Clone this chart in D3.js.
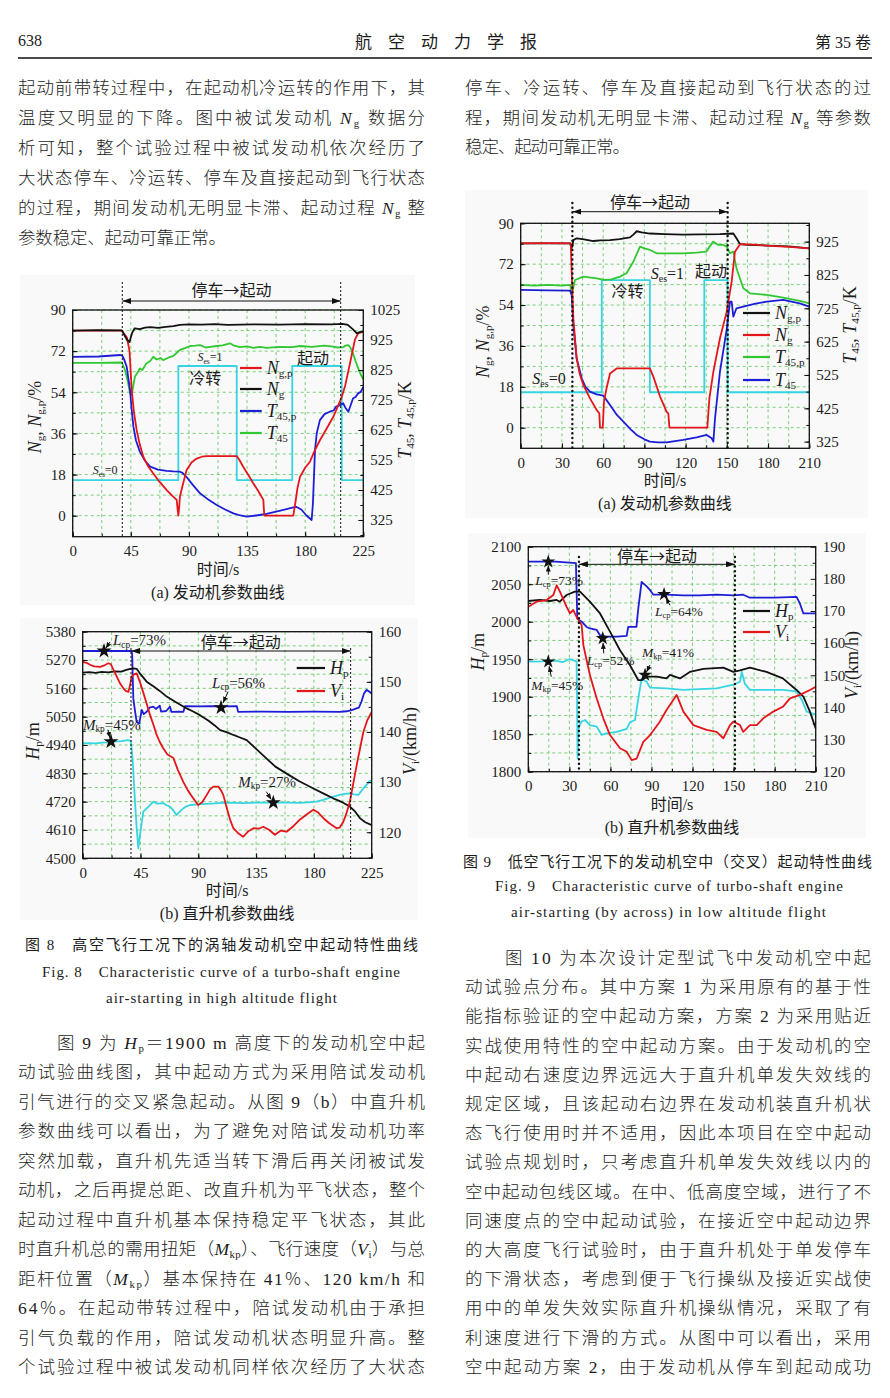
<!DOCTYPE html>
<html>
<head>
<meta charset="utf-8">
<script src="https://cdn.jsdelivr.net/npm/d3@7"></script>
<style>
body { margin: 0; background: #fff; }
</style>
</head>
<body>
<div id="page"></div>
<script>
// ---------- page text ----------
var topLeftLines = [
	"起动前带转过程中，在起动机冷运转的作用下，其",
	"温度又明显的下降。图中被试发动机 *N*_{g} 数据分",
	"析可知，整个试验过程中被试发动机依次经历了",
	"大状态停车、冷运转、停车及直接起动到飞行状态",
	"的过程，期间发动机无明显卡滞、起动过程 *N*_{g} 整",
	"参数稳定、起动可靠正常。"
];
var topRightLines = [
	"停车、冷运转、停车及直接起动到飞行状态的过",
	"程，期间发动机无明显卡滞、起动过程 *N*_{g} 等参数",
	"稳定、起动可靠正常。"
];
var bottomLeftLines = [
	"图 9 为 *H*_{p}＝1900 m 高度下的发动机空中起",
	"动试验曲线图，其中起动方式为采用陪试发动机",
	"引气进行的交叉紧急起动。从图 9（b）中直升机",
	"参数曲线可以看出，为了避免对陪试发动机功率",
	"突然加载，直升机先适当转下滑后再关闭被试发",
	"动机，之后再提总距、改直升机为平飞状态，整个",
	"起动过程中直升机基本保持稳定平飞状态，其此",
	"时直升机总的需用扭矩（*M*_{kp}）、飞行速度（*V*_{i}）与总",
	"距杆位置（*M*_{kp}）基本保持在 41％、120 km/h 和",
	"64％。在起动带转过程中，陪试发动机由于承担",
	"引气负载的作用，陪试发动机状态明显升高。整",
	"个试验过程中被试发动机同样依次经历了大状态"
];
var bottomRightLines = [
	"图 10 为本次设计定型试飞中发动机空中起",
	"动试验点分布。其中方案 1 为采用原有的基于性",
	"能指标验证的空中起动方案，方案 2 为采用贴近",
	"实战使用特性的空中起动方案。由于发动机的空",
	"中起动右速度边界远远大于直升机单发失效线的",
	"规定区域，且该起动右边界在发动机装直升机状",
	"态飞行使用时并不适用，因此本项目在空中起动",
	"试验点规划时，只考虑直升机单发失效线以内的",
	"空中起动包线区域。在中、低高度空域，进行了不",
	"同速度点的空中起动试验，在接近空中起动边界",
	"的大高度飞行试验时，由于直升机处于单发停车",
	"的下滑状态，考虑到便于飞行操纵及接近实战使",
	"用中的单发失效实际直升机操纵情况，采取了有",
	"利速度进行下滑的方式。从图中可以看出，采用",
	"空中起动方案 2，由于发动机从停车到起动成功"
];
var caption8 = ["图 8　高空飞行工况下的涡轴发动机空中起动特性曲线",
	"Fig. 8　Characteristic curve of a turbo-shaft engine",
	"air-starting in high altitude flight"];
var caption9 = ["图 9　低空飞行工况下的发动机空中（交叉）起动特性曲线",
	"Fig. 9　Characteristic curve of turbo-shaft engine",
	"air-starting (by across) in low altitude flight"];

// ---------- Fig 8(a) engine, high altitude ----------
var f8aTicksX = [0, 45, 90, 135, 180, 225];
var f8aTicksL = [0, 18, 36, 54, 72, 90];
var f8aTicksR = [325, 425, 525, 625, 725, 825, 925, 1025];
var f8aStop = [38.4, 207.5];
var f8aSes = [[0, 15.6], [81.8, 15.6], [81.8, 65.5], [127, 65.5], [127, 15.6], [170, 15.6], [170, 65.5], [208.3, 65.5], [208.3, 15.6], [225, 15.6]];
var f8aNgp = [[0, 81], [38, 81], [42, 78], [44, 72], [45.7, 55], [47.5, 45], [49.5, 37.5], [52, 31], [54.7, 25.8], [58, 22], [62.4, 18.5], [67, 15], [72.8, 11.2], [77, 8.8], [80.5, 6.9], [81.2, 3], [81.8, 0], [82.5, 4], [83, 8.3], [85, 13], [88.2, 20], [92, 23.3], [96, 25], [100, 25.8], [103.7, 26.1], [115, 26.1], [127, 26.1], [129, 24.5], [132, 21.4], [136, 17.8], [139.8, 14.2], [144, 10.5], [147.6, 6.9], [148, 3], [148.4, 0], [170.8, 0], [172.5, 6], [174, 12], [176, 17], [180, 21], [183.7, 23.6], [187, 28], [191.4, 33], [196, 37.5], [201.8, 43.3], [205, 47.5], [208, 51.4], [211, 57], [214.7, 66.7], [218.5, 77], [221, 79.8], [225, 80.5]];
var f8aNg = [[0, 81], [20, 81.2], [38, 81.1], [40, 79], [42, 77], [44, 76], [46, 80], [48, 82], [52, 81.6], [56, 82.3], [60, 82.5], [66, 82.2], [72, 82.6], [78, 82.9], [83, 83.5], [90, 83.7], [100, 83.6], [110, 83.8], [120, 83.5], [140, 83.7], [160, 83.6], [180, 83.8], [200, 83.7], [209, 83.9], [213, 83.5], [217, 81.5], [220, 79.8], [222, 80.3], [225, 80.5]];
var f8aT45p = [[0, 869], [20, 870], [37, 875], [38.5, 872], [40, 858], [41.8, 836], [43, 800], [44.4, 758], [45.5, 700], [47, 636], [49, 590], [52, 553], [56, 522], [60, 503], [66, 493], [72.8, 489], [78, 487], [83, 486], [85, 482], [88, 469], [93, 442], [98.6, 414], [105, 393], [111.5, 375], [118, 360], [124.4, 347], [130, 340], [134.7, 336], [142, 340], [150, 345], [160, 355], [170.8, 367], [173, 369], [177, 360], [181, 340], [185, 325], [186, 380], [187.6, 558], [189, 615], [191.4, 658], [195, 678], [199, 686], [202, 690], [204, 703], [207, 708], [209.5, 714], [211, 700], [213.4, 686], [215, 705], [217, 730], [219, 735], [221, 747], [223, 752], [225, 769]];
var f8aT45 = [[0, 849], [20, 849], [38, 850], [40.5, 825], [42.5, 790], [44.4, 747], [45.7, 742], [47, 775], [48.2, 803], [50, 815], [52, 830], [54, 825], [57, 847], [60, 855], [62.4, 869], [65, 860], [68, 865], [70, 858], [74, 866], [78, 872], [80, 880], [83, 892], [87, 898], [90.8, 905], [95, 906], [98.6, 908], [103, 900], [108, 903], [111.5, 905], [116, 907], [121.8, 914], [125, 906], [129.5, 901], [135, 904], [140, 899], [145, 902], [150, 899], [160, 902], [170, 901], [176, 905], [185, 902], [195, 906], [201.8, 903], [205, 900], [209.5, 901], [211, 906], [213.4, 908], [215, 900], [217, 881], [219, 855], [221, 831], [223, 810], [225, 794]];

// ---------- Fig 8(b) helicopter, high altitude ----------
var f8bTicksX = [0, 45, 90, 135, 180, 225];
var f8bTicksL = [4500, 4610, 4720, 4830, 4940, 5050, 5160, 5270, 5380];
var f8bTicksR = [120, 130, 140, 150, 160];
var f8bStop = [37.6, 208.6];
var f8bHp = [[0, 5221], [5, 5223], [10, 5220], [15, 5224], [20, 5222], [25, 5226], [30, 5225], [34, 5232], [37, 5236], [39.4, 5238], [42, 5236], [45, 5215], [49.8, 5186], [55, 5168], [60, 5150], [65.4, 5128], [72, 5108], [81, 5082], [86, 5070], [91.3, 5056], [98, 5034], [103, 5015], [107, 4998], [112, 4990], [117.3, 4979], [122, 4970], [127.7, 4959], [135, 4925], [143, 4888], [150, 4856], [160, 4825], [169, 4798], [180, 4770], [188, 4750], [195, 4733], [202, 4718], [208, 4701], [212, 4682], [216, 4655], [220, 4640], [225, 4629]];
var f8bLcp = [[0, 5305], [38, 5305], [38.5, 5290], [39.4, 5121], [40.5, 5080], [42, 5030], [43, 5026], [44, 5024], [45, 5050], [46, 5076], [47.5, 5060], [49.8, 5069], [52, 5085], [55, 5089], [57, 5080], [60, 5093], [61, 5070], [65, 5072], [68, 5089], [69, 5069], [75, 5070], [78.4, 5069], [79.7, 5091], [90, 5090], [100, 5091], [110, 5090], [120, 5091], [121, 5069], [140, 5070], [160, 5069], [180, 5070], [200, 5069], [205.5, 5071], [210, 5076], [212, 5080], [215, 5085], [217, 5108], [219, 5140], [221, 5154], [223, 5148], [225, 5140]];
var f8bMkp = [[0, 4946], [5, 4947], [10, 4946], [15, 4949], [20, 4950], [25, 4953], [30, 4955], [35, 4959], [37.5, 4956], [38, 4930], [39, 4875], [40.7, 4720], [42, 4620], [43.3, 4539], [44.6, 4590], [46, 4640], [47.2, 4681], [49.8, 4694], [52, 4705], [55, 4720], [58, 4712], [62.8, 4714], [65, 4707], [68, 4700], [70, 4690], [73, 4668], [75, 4678], [77, 4688], [80, 4700], [83.6, 4707], [91.3, 4710], [100, 4712], [112, 4716], [125, 4714], [135, 4716], [148, 4716], [160, 4716], [170, 4715], [182, 4720], [188, 4728], [192.5, 4736], [200, 4746], [204, 4750], [208, 4752], [211, 4748], [214.6, 4746], [216, 4755], [218.5, 4772], [221, 4785], [223, 4798], [225, 4804]];
var f8bVi = [[0, 154], [3, 153.8], [5.7, 153.4], [9, 153.1], [13.5, 153], [17, 153.3], [20, 153.7], [22, 153.5], [24, 152.4], [27, 150.8], [29.5, 149.5], [31.7, 148.7], [33.5, 148.2], [35.6, 148], [37, 149.5], [38, 151], [40, 151.5], [42, 151.7], [44.5, 150], [47, 148], [50, 145.5], [52.4, 143.4], [55, 141.5], [57.6, 139.4], [60, 138], [62.8, 136.7], [66, 135.5], [70.6, 134.8], [74, 132.5], [78.4, 130], [82, 128.3], [86, 126.8], [90, 125.4], [93, 126], [96.5, 127.4], [99, 128.5], [101.7, 129.1], [105.6, 129.1], [108, 128.2], [109.5, 127.4], [112, 125], [115, 122.3], [117.3, 120.8], [121, 119.8], [125, 119.1], [129, 120.2], [132.9, 120.8], [137, 120.7], [140.6, 121.1], [145, 120.5], [149.7, 119.5], [154, 120.3], [158.8, 120.1], [164, 121.2], [169, 122.5], [174, 123.5], [179.6, 124.5], [183, 124], [187.4, 122.8], [192, 121.8], [197.7, 120.8], [200, 120.9], [202.9, 122.1], [205, 123.5], [208, 126.1], [210.5, 129.5], [213.3, 133.4], [216, 136.8], [218.5, 140], [221.5, 142.3], [225, 144]];
var f8bNotes = [
	{ text: "*L*_{cp}=73%", t: 16.6, v: 5305 },
	{ text: "*L*_{cp}=56%", t: 107.7, v: 5085 },
	{ text: "*M*_{kp}=45%", t: 22, v: 4953 },
	{ text: "*M*_{kp}=27%", t: 148.4, v: 4716 }
];

// ---------- Fig 9(a) engine, low altitude ----------
var f9aTicksX = [0, 30, 60, 90, 120, 150, 180, 210];
var f9aTicksL = [0, 18, 36, 54, 72, 90];
var f9aTicksR = [325, 425, 525, 625, 725, 825, 925];
var f9aStop = [37.6, 150.6];
var f9aSes = [[0, 15.6], [59, 15.6], [59, 65], [94, 65], [94, 15.6], [133.6, 15.6], [133.6, 65], [150.6, 65], [150.6, 15.6], [210, 15.6]];
var f9aNgp = [[0, 81.2], [36, 81.2], [37, 79], [37.6, 80], [38.3, 82.6], [40.7, 83.4], [45, 83], [52.9, 82.2], [58, 82.5], [65, 82.6], [72, 83], [79.5, 83.8], [82, 85], [84.4, 86.5], [88, 86], [94, 85.5], [105, 85.2], [118, 85], [130, 85.1], [145, 85.2], [154.7, 85.5], [157, 83.4], [159.6, 80.8], [165, 80.5], [180, 80.2], [195, 79.8], [210, 79]];
var f9aNg = [[0, 81.2], [20, 81.3], [36.4, 81.2], [37.1, 68.7], [38.3, 48.2], [40.7, 30.5], [43, 23.5], [45.6, 18.8], [50.4, 12.9], [55.3, 7.8], [57.2, 6.3], [57.7, 0], [59.7, 0], [60.6, 11.5], [62.5, 17.5], [65, 23.9], [69.8, 26.1], [80, 26.1], [94, 26.1], [96.5, 22.5], [101.4, 13.7], [106.2, 7], [107.4, 6.3], [108.2, 0], [135.8, 0], [137.3, 12.9], [140.2, 24.7], [145, 39.4], [149.9, 51.1], [153.5, 64.3], [155.9, 77.5], [159.6, 80.8], [170, 80.6], [179, 80.2], [195, 79.6], [210, 79]];
var f9aT45p = [[0, 795], [10, 793], [20, 795], [30, 793], [36, 795], [37.1, 765], [39.5, 810], [45.6, 820], [55.3, 815], [60.6, 810], [66, 812], [72.3, 820], [77, 830], [82, 865], [86.8, 910], [90, 905], [94, 900], [99, 890], [110, 890], [118, 890], [128, 892], [135, 895], [140, 925], [143.8, 915], [147.4, 915], [150, 910], [152.3, 890], [154.7, 895], [157, 845], [162, 785], [166.8, 770], [179, 765], [191, 757], [203, 747], [210, 740]];
var f9aT45 = [[0, 780], [20, 779], [36, 778], [37.1, 765], [38.3, 675], [40.7, 575], [44.4, 515], [47, 490], [50.4, 475], [55.3, 467], [60.1, 463], [65, 435], [70, 405], [74.7, 385], [80, 362], [84.4, 345], [90, 332], [94, 325], [100, 323], [106.2, 323], [118.3, 330], [128, 338], [135.3, 345], [139, 335], [140.2, 325], [141.4, 395], [145, 535], [150, 665], [152.3, 745], [153.5, 745], [154.7, 700], [157, 725], [162, 730], [170, 738], [179, 745], [191, 750], [203, 740], [210, 730]];

// ---------- Fig 9(b) helicopter, low altitude ----------
var f9bTicksX = [0, 30, 60, 90, 120, 150, 180, 210];
var f9bTicksL = [1800, 1850, 1900, 1950, 2000, 2050, 2100];
var f9bTicksR = [120, 130, 140, 150, 160, 170, 180, 190];
var f9bStop = [37, 151];
var f9bLcp = [[0, 2080], [20, 2080], [34.8, 2078], [35.8, 2004], [39, 2000], [42.6, 1993], [45, 1991], [50, 1989], [52.4, 1982], [57, 1980], [65, 1980], [71.9, 1981], [73, 1993], [79, 1993], [80.4, 2018], [82.8, 2053], [86.5, 2047], [89, 2042], [91.4, 2036], [101, 2036], [113, 2035], [125, 2035], [137.6, 2036], [150, 2035], [157, 2036], [162, 2032], [180, 2032], [196, 2033], [198.5, 2024], [201, 2011], [210, 2011]];
var f9bMkp = [[0, 1946.7], [10, 1947], [20, 1948], [25, 1946], [30, 1950], [35.3, 1947], [35.6, 1900], [36, 1818], [36.5, 1850], [37, 1860], [39, 1867], [41.4, 1869], [45, 1862], [50, 1860], [53.6, 1849], [57, 1851], [64.6, 1853], [71.9, 1857], [74.3, 1866], [78, 1869], [80.4, 1898], [82.8, 1924], [86.5, 1920], [89, 1912], [101, 1911], [113, 1909], [125, 1910], [137.6, 1911], [149.8, 1916], [154.7, 1920], [156, 1933], [158.3, 1917], [162, 1909], [174, 1909], [186, 1909], [196, 1907], [199.8, 1896], [203.4, 1880], [210, 1876]];
var f9bHp = [[0, 2027.6], [8.5, 2029], [15.8, 2027.6], [20.7, 2029], [23, 2026.7], [28, 2035.6], [34, 2040], [37.8, 2040], [45, 2026.7], [52.4, 2011], [59.7, 1986.7], [67, 1962], [74.3, 1942], [80.4, 1922], [82.8, 1922], [86.5, 1926.7], [93.8, 1926.7], [101, 1924.4], [103.5, 1929], [110.8, 1924.4], [118, 1933], [127.9, 1937], [142.5, 1938.7], [149.8, 1933], [154.7, 1935], [162, 1938.7], [174, 1933], [186, 1924.4], [196, 1909], [201, 1900], [205.8, 1880], [210, 1857.8]];
var f9bVi = [[0, 171.3], [6, 172.9], [13.4, 173.4], [18.3, 175], [20.7, 178], [23.1, 176], [28, 171.3], [30.4, 169.3], [32.9, 170.3], [35.3, 168.2], [39, 165.6], [40.2, 159.4], [45, 150.1], [50, 142.8], [54.8, 136.6], [59.7, 131.4], [67, 127.3], [71.9, 126.2], [75.5, 123.6], [79.2, 124.1], [84, 129.3], [89, 131.4], [96.2, 135.6], [101, 139.2], [108.4, 143.9], [113.3, 138.7], [120.6, 134.5], [130.3, 133], [137.6, 132.4], [142.5, 130.4], [147.4, 134.5], [149.8, 135.6], [154.7, 134.5], [157, 132.4], [162, 134.5], [166.9, 134.5], [171.7, 136.6], [179, 138.7], [186.3, 140.3], [191.2, 142.8], [198.5, 143.9], [205.8, 145.4], [210, 146.4]];
var f9bNotes = [
	{ text: "*L*_{cp}=73%", t: 14.6, v: 2080 },
	{ text: "*M*_{kp}=45%", t: 14.6, v: 1946.7 },
	{ text: "*L*_{cp}=52%", t: 54.4, v: 1977.8 },
	{ text: "*M*_{kp}=41%", t: 85.3, v: 1929 },
	{ text: "*L*_{cp}=64%", t: 99.2, v: 2036.5 }
];

// ---------- styles ----------
var serif = "'Liberation Serif', 'Times New Roman', serif";
var mixed = "'Liberation Serif', 'Noto Sans CJK SC', sans-serif";
var cjk = "'Noto Sans CJK SC', sans-serif";
var cRed = "#e4161c", cBlack = "#121212", cBlue = "#1d1dd8", cGreen = "#30c832", cCyan = "#35d5e2", cGrid = "#58c658";
var ink = "#1c1c1c";

var svg = d3.select("#page").append("svg")
	.attr("width", 890)
	.attr("height", 1398)
	.style("background", "#fff");
var defs = svg.append("defs");

defs.append("marker").attr("id", "ah")
	.attr("markerUnits", "userSpaceOnUse")
	.attr("markerWidth", 9).attr("markerHeight", 6)
	.attr("refX", 9).attr("refY", 3)
	.attr("orient", "auto-start-reverse")
	.append("path").attr("d", "M0,0 L9,3 L0,6 Z").attr("fill", "#111");
defs.append("marker").attr("id", "ah2")
	.attr("markerUnits", "userSpaceOnUse")
	.attr("markerWidth", 6).attr("markerHeight", 5)
	.attr("refX", 6).attr("refY", 2.5)
	.attr("orient", "auto")
	.append("path").attr("d", "M0,0 L6,2.5 L0,5 Z").attr("fill", "#111");

// text with *italic* and _{sub} markup
function rich(t, str, size) {
	var re = /\*([^*]+)\*|_\{([^}]+)\}|([^*_]+)/g, m, down = 0;
	while ((m = re.exec(str)) !== null) {
		var s;
		if (m[2] !== undefined) {
			var d = size * 0.3;
			s = t.append("tspan").attr("font-size", size * 0.62).attr("dy", d - down).text(m[2]);
			down = d;
		} else {
			s = t.append("tspan").text(m[1] !== undefined ? m[1] : m[3]);
			if (m[1] !== undefined) s.attr("font-style", "italic");
			if (down) { s.attr("dy", -down); down = 0; }
		}
	}
	return t;
}

function textAt(x, y, str, size, family, anchor) {
	var t = svg.append("text")
		.attr("x", x).attr("y", y)
		.attr("font-size", size)
		.attr("font-family", family || mixed)
		.attr("fill", ink)
		.attr("dominant-baseline", "central")
		.attr("text-anchor", anchor || "start");
	return rich(t, str, size);
}

// justified paragraph
function para(lines, x0, x1, y0, step, indent, lastEnd) {
	lines.forEach(function (s, i) {
		var xs = x0 + (i === 0 ? indent : 0);
		var end = (i === lines.length - 1 && lastEnd) ? lastEnd : x1;
		textAt(xs, y0 + i * step, s, 17.5)
			.attr("font-weight", 300)
			.attr("textLength", end - xs)
			.attr("lengthAdjust", "spacing");
	});
}

//header
textAt(18, 40, "638", 16, serif);
textAt(355, 42, "航 空 动 力 学 报", 17).attr("textLength", 182).attr("lengthAdjust", "spacing");
textAt(815, 42, "第 35 卷", 16).attr("textLength", 56).attr("lengthAdjust", "spacing");
svg.append("line").attr("x1", 18).attr("x2", 872).attr("y1", 58).attr("y2", 58)
	.attr("stroke", "#111").attr("stroke-width", 1.5);

//body text
para(topLeftLines, 18, 425, 88, 30, 0, 226);
para(topRightLines, 465, 871, 88, 29.5, 0, 630);
para(bottomLeftLines, 18, 425, 1043, 29.45, 39, null);
para(bottomRightLines, 465, 871, 958, 29.2, 40, null);

//captions
textAt(25, 945, caption8[0], 15).attr("textLength", 393).attr("lengthAdjust", "spacing");
textAt(42, 972, caption8[1], 15, serif).attr("textLength", 358).attr("lengthAdjust", "spacing");
textAt(106, 998, caption8[2], 15, serif).attr("textLength", 231).attr("lengthAdjust", "spacing");
textAt(463, 862, caption9[0], 15).attr("textLength", 409).attr("lengthAdjust", "spacing");
textAt(495, 886, caption9[1], 15, serif).attr("textLength", 348).attr("lengthAdjust", "spacing");
textAt(511, 912, caption9[2], 15, serif).attr("textLength", 315).attr("lengthAdjust", "spacing");

//figure backgrounds
[[20, 275, 395, 330], [20, 618, 398, 302], [465, 190, 403, 328], [468, 533, 398, 305]].forEach(function (r) {
	svg.append("rect").attr("x", r[0]).attr("y", r[1]).attr("width", r[2]).attr("height", r[3]).attr("fill", "#f9f9f9");
});

// one dual-axis chart
function drawChart(c) {
	var x = d3.scaleLinear().domain(c.xDom).range([c.left, c.right]);
	var yL = d3.scaleLinear().domain(c.yLDom).range([c.bottom, c.top]);
	var yR = d3.scaleLinear().domain(c.yRDom).range([c.bottom, c.top]);
	var g = svg.append("g");

	defs.append("clipPath").attr("id", "clip" + c.name).append("rect")
		.attr("x", c.left).attr("y", c.top)
		.attr("width", c.right - c.left).attr("height", c.bottom - c.top);

	//grid
	g.selectAll(null).data(c.xGrid).enter().append("line")
		.attr("x1", d => x(d)).attr("x2", d => x(d))
		.attr("y1", c.top).attr("y2", c.bottom)
		.attr("stroke", cGrid).attr("stroke-width", 0.8).attr("stroke-dasharray", "3,3");
	g.selectAll(null).data(c.yGrid).enter().append("line")
		.attr("x1", c.left).attr("x2", c.right)
		.attr("y1", d => yL(d)).attr("y2", d => yL(d))
		.attr("stroke", cGrid).attr("stroke-width", 0.8).attr("stroke-dasharray", "3,3");

	//lines
	c.series.forEach(function (s) {
		var sc = s.axis === "R" ? yR : yL;
		g.append("path").datum(s.data)
			.attr("d", d3.line().x(d => x(d[0])).y(d => sc(d[1])))
			.attr("fill", "none")
			.attr("stroke", s.color)
			.attr("stroke-width", 1.8)
			.attr("stroke-linejoin", "round")
			.attr("clip-path", "url(#clip" + c.name + ")");
	});

	//axes
	function styleAxis(a) {
		a.attr("font-family", serif).attr("font-size", 15);
		a.selectAll(".domain").remove();
		a.selectAll("line").attr("stroke", "#111").attr("stroke-width", 1);
		a.selectAll("text").attr("fill", ink);
	}
	var ax = g.append("g").attr("transform", "translate(0," + c.bottom + ")")
		.call(d3.axisBottom(x).tickValues(c.xTicks).tickSize(-5).tickPadding(9).tickFormat(d3.format("d")));
	styleAxis(ax);
	var axm = g.append("g").attr("transform", "translate(0," + c.bottom + ")")
		.call(d3.axisBottom(x).tickValues(c.xGrid).tickSize(-3).tickFormat(""));
	styleAxis(axm);
	var al = g.append("g").attr("transform", "translate(" + c.left + ",0)")
		.call(d3.axisLeft(yL).tickValues(c.yLTicks).tickSize(-5).tickPadding(7).tickFormat(d3.format("d")));
	styleAxis(al);
	var alm = g.append("g").attr("transform", "translate(" + c.left + ",0)")
		.call(d3.axisLeft(yL).tickValues(c.yGrid).tickSize(-3).tickFormat(""));
	styleAxis(alm);
	var ar = g.append("g").attr("transform", "translate(" + c.right + ",0)")
		.call(d3.axisRight(yR).tickValues(c.yRTicks).tickSize(-5).tickPadding(7).tickFormat(d3.format("d")));
	styleAxis(ar);
	var arm = g.append("g").attr("transform", "translate(" + c.right + ",0)")
		.call(d3.axisRight(yR).tickValues(c.yRMinor).tickSize(-3).tickFormat(""));
	styleAxis(arm);

	g.append("rect").attr("x", c.left).attr("y", c.top)
		.attr("width", c.right - c.left).attr("height", c.bottom - c.top)
		.attr("fill", "none").attr("stroke", "#111").attr("stroke-width", 1.3);

	//axis titles
	var cx = (c.left + c.right) / 2;
	textAt(cx, c.bottom + 32, "时间/s", 16, mixed, "middle");
	textAt(cx, c.bottom + 55, c.sub, 16, mixed, "middle");
	textAt(0, 0, c.yLLabel, 18, serif, "middle")
		.attr("transform", "translate(" + c.yLLabelPos[0] + "," + c.yLLabelPos[1] + ") rotate(-90)");
	textAt(0, 0, c.yRLabel, 18, serif, "middle")
		.attr("transform", "translate(" + c.yRLabelPos[0] + "," + c.yRLabelPos[1] + ") rotate(-90)");

	return { x: x, yL: yL, yR: yR, g: g, c: c };
}

// 停车→起动 span
function stopStart(ch, ts, yTop, yArrow, yLabel, heavy) {
	ts.forEach(function (t) {
		ch.g.append("line")
			.attr("x1", ch.x(t)).attr("x2", ch.x(t))
			.attr("y1", yTop).attr("y2", ch.c.bottom)
			.attr("stroke", "#111")
			.attr("stroke-width", heavy ? 2.4 : 1)
			.attr("stroke-dasharray", heavy ? "0.1,4.6" : "2,2")
			.attr("stroke-linecap", heavy ? "round" : "butt");
	});
	ch.g.append("line")
		.attr("x1", ch.x(ts[0])).attr("x2", ch.x(ts[1]))
		.attr("y1", yArrow).attr("y2", yArrow)
		.attr("stroke", "#111").attr("stroke-width", 1)
		.attr("marker-start", "url(#ah)").attr("marker-end", "url(#ah)");
	textAt((ch.x(ts[0]) + ch.x(ts[1])) / 2, yLabel, "停车→起动", 16, cjk, "middle");
}

function legend(items, x1, x2, ys, size) {
	items.forEach(function (it, i) {
		svg.append("line").attr("x1", x1).attr("x2", x2).attr("y1", ys[i]).attr("y2", ys[i])
			.attr("stroke", it[1]).attr("stroke-width", 2.2);
		textAt(x2 + 5, ys[i], it[0], size, serif);
	});
}

// stars with labels; lay = [labelDx, labelDy, arrowDx, arrowDy] in pixels from the star
function notes(ch, list, lay, size, starSize) {
	list.forEach(function (n, i) {
		var sx = ch.x(n.t), sy = ch.yL(n.v), L = lay[i];
		ch.g.append("line")
			.attr("x1", sx + L[2]).attr("y1", sy + L[3])
			.attr("x2", sx + L[2] * 0.3).attr("y2", sy + L[3] * 0.3)
			.attr("stroke", "#111").attr("stroke-width", 1)
			.attr("marker-end", "url(#ah2)");
		ch.g.append("path")
			.attr("d", d3.symbol().type(d3.symbolStar).size(starSize)())
			.attr("transform", "translate(" + sx + "," + sy + ")")
			.attr("fill", "#111");
		textAt(sx + L[0], sy + L[1], n.text, size, serif);
	});
}

//---- Fig 8(a)
var c8a = drawChart({
	name: "8a", left: 72.7, right: 363.3, top: 310, bottom: 536.7,
	xDom: [0, 225], yLDom: [-9.19, 90], yRDom: [269.3, 1025],
	xTicks: f8aTicksX, yLTicks: f8aTicksL, yRTicks: f8aTicksR,
	xGrid: d3.range(0, 226, 22.5), yGrid: d3.range(0, 91, 9), yRMinor: d3.range(275, 1026, 50),
	series: [
		{ data: f8aSes, color: cCyan, axis: "L" },
		{ data: f8aT45, color: cGreen, axis: "R" },
		{ data: f8aT45p, color: cBlue, axis: "R" },
		{ data: f8aNgp, color: cRed, axis: "L" },
		{ data: f8aNg, color: cBlack, axis: "L" }
	],
	sub: "(a) 发动机参数曲线",
	yLLabel: "*N*_{g}, *N*_{g,p}/%", yLLabelPos: [35, 417],
	yRLabel: "*T*_{45}, *T*_{45,p}/K", yRLabelPos: [405, 420]
});
stopStart(c8a, f8aStop, 282, 301, 289, false);
legend([["*N*_{g,p}", cRed], ["*N*_{g}", cBlack], ["*T*_{45,p}", cBlue], ["*T*_{45}", cGreen]], 240, 261.7, [368, 389, 411, 433], 18);
textAt(c8a.x(106.3), c8a.yL(69.4), "*S*_{es}=1", 12, serif, "middle");
textAt(c8a.x(102.6), c8a.yL(60.2), "冷转", 16, mixed, "middle");
textAt(c8a.x(186.1), c8a.yL(69), "起动", 16, mixed, "middle");
textAt(c8a.x(25.1), c8a.yL(20), "*S*_{es}=0", 12, serif, "middle");

//---- Fig 8(b)
var c8b = drawChart({
	name: "8b", left: 82.7, right: 371.7, top: 631.7, bottom: 858.3,
	xDom: [0, 225], yLDom: [4500, 5380], yRDom: [114.8, 160],
	xTicks: f8bTicksX, yLTicks: f8bTicksL, yRTicks: f8bTicksR,
	xGrid: d3.range(0, 226, 22.5), yGrid: d3.range(4500, 5381, 55), yRMinor: d3.range(115, 161, 5),
	series: [
		{ data: f8bMkp, color: cCyan, axis: "L" },
		{ data: f8bLcp, color: cBlue, axis: "L" },
		{ data: f8bHp, color: cBlack, axis: "L" },
		{ data: f8bVi, color: cRed, axis: "R" }
	],
	sub: "(b) 直升机参数曲线",
	yLLabel: "*H*_{p}/m", yLLabelPos: [33, 741],
	yRLabel: "*V*_{i}/(km/h)", yRLabelPos: [410, 741]
});
stopStart(c8b, f8bStop, 648, 651, 641, false);
legend([["*H*_{p}", cBlack], ["*V*_{i}", cRed]], 296.7, 325, [668, 691], 18);
notes(c8b, f8bNotes, [[9, -11, 6, -9], [-9, -25, 7, -16], [-28, -17, -3, -12], [-35, -21, -7, -11]], 15, 70);

//---- Fig 9(a)
var c9a = drawChart({
	name: "9a", left: 520.7, right: 809.3, top: 223.3, bottom: 448.3,
	xDom: [0, 210], yLDom: [-9.07, 90], yRDom: [305, 980],
	xTicks: f9aTicksX, yLTicks: f9aTicksL, yRTicks: f9aTicksR,
	xGrid: d3.range(0, 211, 15), yGrid: d3.range(0, 91, 9), yRMinor: d3.range(325, 976, 50),
	series: [
		{ data: f9aSes, color: cCyan, axis: "L" },
		{ data: f9aT45p, color: cGreen, axis: "R" },
		{ data: f9aT45, color: cBlue, axis: "R" },
		{ data: f9aNgp, color: cBlack, axis: "L" },
		{ data: f9aNg, color: cRed, axis: "L" }
	],
	sub: "(a) 发动机参数曲线",
	yLLabel: "*N*_{g}, *N*_{g,p}/%", yLLabelPos: [483, 341.7],
	yRLabel: "*T*_{45}, *T*_{45,p}/K", yRLabelPos: [850, 325]
});
stopStart(c9a, f9aStop, 203, 211.7, 201, true);
legend([["*N*_{g,p}", cBlack], ["*N*_{g}", cRed], ["*T*_{45,p}", cGreen], ["*T*_{45}", cBlue]], 743, 770, [313, 335, 357, 380], 18);
textAt(c9a.x(20.6), c9a.yL(21.8), "*S*_{es}=0", 16, serif, "middle");
textAt(c9a.x(106.8), c9a.yL(68.1), "*S*_{es}=1", 16, serif, "middle");
textAt(c9a.x(77.7), c9a.yL(60.2), "冷转", 16, mixed, "middle");
textAt(c9a.x(138.5), c9a.yL(69), "起动", 16, mixed, "middle");

//---- Fig 9(b)
var c9b = drawChart({
	name: "9b", left: 528.3, right: 815.7, top: 546.7, bottom: 771.7,
	xDom: [0, 210], yLDom: [1800, 2100], yRDom: [120, 190],
	xTicks: f9bTicksX, yLTicks: f9bTicksL, yRTicks: f9bTicksR,
	xGrid: d3.range(0, 211, 15), yGrid: d3.range(1800, 2101, 25), yRMinor: d3.range(125, 190, 10),
	series: [
		{ data: f9bMkp, color: cCyan, axis: "L" },
		{ data: f9bLcp, color: cBlue, axis: "L" },
		{ data: f9bHp, color: cBlack, axis: "L" },
		{ data: f9bVi, color: cRed, axis: "R" }
	],
	sub: "(b) 直升机参数曲线",
	yLLabel: "*H*_{p}/m", yLLabelPos: [478, 651.7],
	yRLabel: "*V*_{i}/(km/h)", yRLabelPos: [852, 665]
});
stopStart(c9b, f9bStop, 557, 564.3, 555, true);
legend([["*H*_{p}", cBlack], ["*V*_{i}", cRed]], 743, 770, [611, 632], 18);
notes(c9b, f9bNotes, [[-13, 18, 0, 13], [-17, 23, 3, 15], [-16, 22, 1, 15], [-3, -23, 5, -10], [-9, 17, 6, 11]], 13.5, 60);
</script>
</body>
</html>
